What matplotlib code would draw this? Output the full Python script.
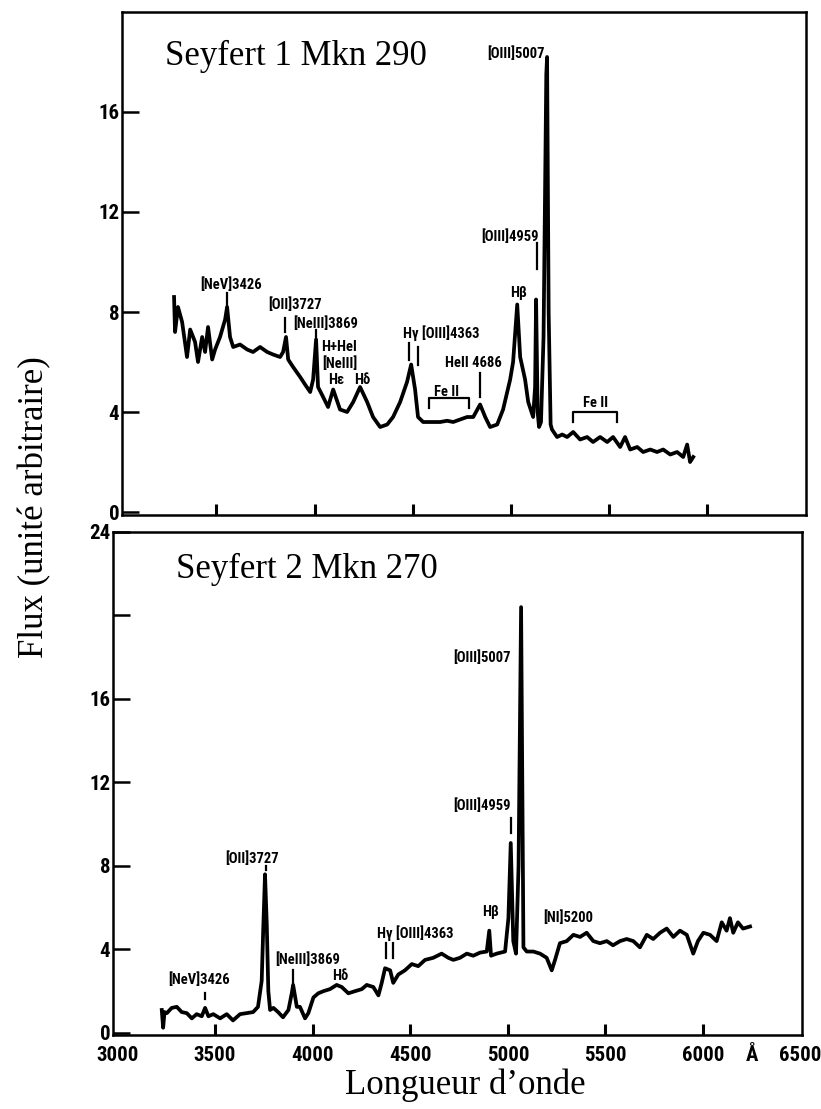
import matplotlib
matplotlib.use("Agg")
import matplotlib.pyplot as plt
from matplotlib import font_manager
import numpy as np

# Seyfert 1 Mkn 290 (top panel) : wavelength (A), flux (arbitrary)
wl_s1 = [3285, 3290, 3305, 3326, 3351, 3367, 3392, 3407, 3428, 3443, 3458, 3479, 3494,
         3519, 3545, 3555, 3570, 3586, 3621, 3657, 3687, 3723, 3759, 3789, 3825, 3840,
         3855, 3866, 3891, 3927, 3952, 3978, 3993, 4008, 4018, 4044, 4069, 4095, 4130,
         4166, 4197, 4232, 4268, 4298, 4334, 4370, 4400, 4436, 4471, 4492, 4512, 4527,
         4553, 4573, 4604, 4640, 4675, 4706, 4741, 4777, 4808, 4843, 4869, 4894, 4930,
         4960, 4996, 5011, 5032, 5047, 5072, 5088, 5113, 5123, 5128, 5136, 5143, 5153,
         5166, 5180, 5184, 5192, 5202, 5209, 5235, 5261, 5286, 5317, 5352, 5388, 5418,
         5454, 5490, 5520, 5556, 5581, 5607, 5643, 5673, 5709, 5744, 5775, 5811, 5846,
         5877, 5897, 5912, 5928]
fx_s1 = [8.6, 7.2, 8.2, 7.6, 6.2, 7.3, 6.8, 6.0, 7.0, 6.4, 7.4, 6.1, 6.5,
         7.0, 7.7, 8.2, 7.0, 6.6, 6.7, 6.5, 6.4, 6.6, 6.4, 6.3, 6.2, 6.4,
         7.0, 6.1, 5.8, 5.4, 5.1, 4.8, 5.3, 6.9, 5.0, 4.6, 4.2, 4.9, 4.1,
         4.0, 4.4, 5.0, 4.4, 3.8, 3.4, 3.5, 3.8, 4.4, 5.2, 5.9, 4.9, 3.8,
         3.6, 3.6, 3.6, 3.6, 3.65, 3.6, 3.7, 3.8, 3.8, 4.3, 3.8, 3.4, 3.5,
         4.1, 5.3, 6.0, 8.3, 6.2, 5.3, 4.4, 3.8, 5.0, 8.5, 4.0, 3.4, 3.6,
         7.0, 17.5, 18.2, 8.0, 3.5, 3.3, 3.0, 3.1, 3.0, 3.2, 2.9, 3.0, 2.8,
         3.0, 2.8, 3.0, 2.6, 3.0, 2.5, 2.6, 2.4, 2.5, 2.4, 2.5, 2.3, 2.4,
         2.2, 2.7, 2.0, 2.2]

# Seyfert 2 Mkn 270 (bottom panel)
wl_s2 = [3227, 3234, 3241, 3253, 3278, 3304, 3329, 3355, 3381, 3406, 3432, 3449, 3466,
         3491, 3526, 3560, 3592, 3628, 3662, 3695, 3720, 3739, 3747, 3756, 3765, 3773,
         3782, 3799, 3823, 3848, 3876, 3893, 3900, 3919, 3935, 3961, 3978, 4004, 4029,
         4055, 4089, 4123, 4149, 4183, 4217, 4252, 4277, 4311, 4337, 4354, 4371, 4397,
         4413, 4439, 4473, 4508, 4541, 4576, 4618, 4661, 4695, 4721, 4755, 4790, 4823,
         4858, 4892, 4905, 4914, 4943, 4986, 5003, 5015, 5028, 5042, 5055, 5068, 5080,
         5097, 5131, 5165, 5199, 5225, 5242, 5267, 5302, 5336, 5370, 5404, 5438, 5472,
         5507, 5539, 5575, 5609, 5643, 5677, 5712, 5745, 5780, 5814, 5848, 5882, 5917,
         5950, 5974, 6002, 6036, 6070, 6096, 6121, 6138, 6155, 6179, 6205, 6241]
fx_s2 = [1.1, 0.25, 1.0, 0.95, 1.2, 1.25, 1.0, 0.95, 0.7, 0.9, 0.8, 1.2, 0.8,
         0.9, 0.7, 0.9, 0.6, 0.9, 0.95, 1.0, 1.25, 2.5, 5.0, 7.6, 5.2, 2.0,
         1.1, 1.2, 1.0, 0.75, 1.1, 1.9, 2.3, 1.25, 1.25, 0.7, 0.95, 1.7, 1.9,
         2.0, 2.1, 2.3, 2.2, 1.9, 2.0, 2.1, 2.3, 2.2, 1.8, 2.4, 3.1, 3.0,
         2.4, 2.8, 3.0, 3.3, 3.2, 3.5, 3.6, 3.8, 3.6, 3.5, 3.6, 3.8, 3.7,
         3.85, 3.9, 4.9, 3.7, 3.8, 3.9, 5.5, 9.1, 4.4, 3.8, 8.0, 20.4, 4.1,
         3.9, 3.9, 3.8, 3.6, 3.0, 3.5, 4.3, 4.4, 4.7, 4.6, 4.8, 4.4, 4.3,
         4.4, 4.2, 4.4, 4.5, 4.4, 4.1, 4.7, 4.5, 4.8, 5.0, 4.6, 4.9, 4.7,
         3.8, 4.4, 4.8, 4.7, 4.4, 5.3, 4.9, 5.5, 4.8, 5.3, 5.0, 5.1]

# line identifications: (text, x, y)
labels_s1 = [("[NeV]3426", 3575, 9.1), ("[OII]3727", 3901, 8.3), ("[NeIII]3869", 4059, 7.55),
             ("H+HeI", 4125, 6.6), ("[NeIII]", 4130, 5.95), ("Hε", 4110, 5.3), ("Hδ", 4242, 5.3),
             ("Hγ [OIII]4363", 4645, 7.15), ("HeII 4686", 4808, 5.95), ("Fe II", 4670, 4.8),
             ("Hβ", 5037, 8.75), ("[OIII]4959", 4996, 11.0), ("[OIII]5007", 5026, 18.35),
             ("Fe II", 5429, 4.35)]
ticks_s1 = [(3555, 8.75, 8.3), (3850, 7.75, 7.2), (4008, 7.3, 6.95), (4482, 6.75, 6.1),
            (4527, 6.6, 5.9), (4843, 5.55, 4.6), (5133, 10.75, 9.7)]
brackets_s1 = [(4584, 4787, 4.55, 4.15), (5317, 5541, 4.0, 3.6)]

labels_s2 = [("[NeV]3426", 3418, 2.55), ("[OII]3727", 3690, 8.35), ("[NeIII]3869", 3977, 3.5),
             ("Hδ", 4141, 2.75), ("Hγ [OIII]4363", 4525, 4.8), ("Hβ", 4909, 5.8),
             ("[OIII]4959", 4870, 10.9), ("[OIII]5007", 4870, 18.0), ("[NI]5200", 5309, 5.5)]
ticks_s2 = [(3449, 1.9, 1.65), (3761, 8.0, 7.8), (3900, 3.0, 2.4), (4376, 4.3, 3.6),
            (4412, 4.3, 3.6), (5016, 10.3, 9.6)]

xt = [3500, 4000, 4500, 5000, 5500, 6000]
yt_s1 = [0, 4, 8, 12, 16]
yt_s2 = [0, 4, 8, 12, 16, 20, 24]
ytl_s2 = ["0", "4", "8", "12", "16", "", "24"]

# pick a condensed face if one is installed
names = {f.name for f in font_manager.fontManager.ttflist}
narrow = [n for n in ["Roboto Condensed", "Liberation Sans Narrow", "DejaVu Sans Condensed",
                      "Open Sans Condensed"] if n in names] + ["DejaVu Sans"]
serif = ["Liberation Serif", "DejaVu Serif"]

fig = plt.figure(figsize=(8.21, 11.09), dpi=100)
ax1 = fig.add_axes([0.1486, 0.5356, 0.8331, 0.4536])
ax2 = fig.add_axes([0.1376, 0.0667, 0.8392, 0.4536])

ax1.plot(wl_s1, fx_s1, color="black", lw=2.7, solid_joinstyle="round")
ax2.plot(wl_s2, fx_s2, color="black", lw=2.7, solid_joinstyle="round")

lab_kw = dict(ha="center", va="center", fontsize=10.5, fontweight="bold", family=narrow,
              fontstretch="condensed")
for lab, x, y in labels_s1:
    ax1.text(x, y, lab, **lab_kw)
for x, y0, y1 in ticks_s1:
    ax1.plot([x, x], [y0, y1], color="black", lw=1.6)
for x0, x1, y0, y1 in brackets_s1:
    ax1.plot([x0, x0, x1, x1], [y1, y0, y0, y1], color="black", lw=1.6)

for lab, x, y in labels_s2:
    ax2.text(x, y, lab, **lab_kw)
for x, y0, y1 in ticks_s2:
    ax2.plot([x, x], [y0, y1], color="black", lw=1.6)

ax1.set_xlim(3020, 6502)
ax1.set_ylim(-0.12, 20.0)
ax2.set_xlim(2977, 6507)
ax2.set_ylim(-0.1, 24)

ax1.set_xticks(xt)
ax1.set_xticklabels([])
ax1.set_yticks(yt_s1)
ax1.set_yticklabels([str(v) for v in yt_s1])
ax2.set_xticks(xt)
ax2.set_xticklabels([str(v) for v in xt])
ax2.set_xticks([3000, 6250, 6500], ["3000", "Å", "6500"], minor=True)
ax2.set_yticks(yt_s2)
ax2.set_yticklabels(ytl_s2)

for ax in (ax1, ax2):
    for s in ax.spines.values():
        s.set_linewidth(1.8)
    ax.tick_params(axis="y", direction="in", length=12, width=1.8, pad=2)
    ax.tick_params(axis="x", direction="in", length=8, width=2.2, pad=8)
    ax.tick_params(which="minor", length=0, pad=8)
    for t in ax.get_xticklabels(which="both") + ax.get_yticklabels():
        t.set_family(narrow)
        t.set_fontstretch("condensed")
        t.set_fontweight("bold")
        t.set_fontsize(15)

ax1.text(0.063, 0.945, "Seyfert 1 Mkn 290", transform=ax1.transAxes, ha="left", va="top",
         fontsize=25, family=serif)
ax2.text(0.091, 0.958, "Seyfert 2 Mkn 270", transform=ax2.transAxes, ha="left", va="top",
         fontsize=25, family=serif)

fig.text(465 / 821, 1 - 1085 / 1109, "Longueur d’onde", ha="center", va="center",
         fontsize=25, family=serif)
fig.text(35 / 821, 1 - 507 / 1109, "Flux (unité arbitraire)", ha="center", va="center",
         rotation=90, fontsize=25, family=serif)

fig.savefig("out.png", dpi=100)
